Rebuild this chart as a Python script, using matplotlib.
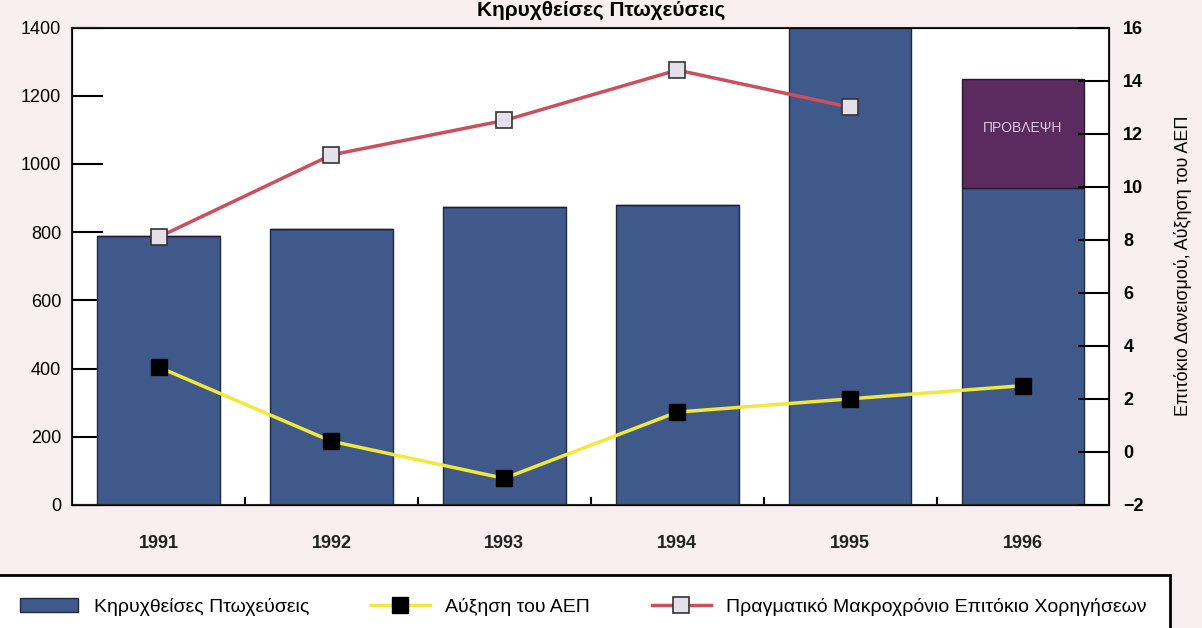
import matplotlib.pyplot as plt
import numpy as np

plt.rcParams['font.family'] = ['Liberation Sans', 'DejaVu Sans']

# data
years = ['1991', '1992', '1993', '1994', '1995', '1996']
bankruptcies = [789, 810, 875, 880, 1450, 930]
forecast_extra = [0, 0, 0, 0, 0, 320]      # forecast part stacked on 1996
gdp_growth = [3.2, 0.4, -1.0, 1.5, 2.0, 2.5]
real_rate = [8.1, 11.2, 12.5, 14.4, 13.0]

bar_col = '#3f5a8a'
purple = '#5b2b60'
bg = '#f9eef0'

fig = plt.figure(figsize=(12.02, 6.28), dpi=100, facecolor=bg)
ax = fig.add_axes([0.06, 0.196, 0.863, 0.76])
ax.set_facecolor('white')

x = np.arange(len(years))
ax.bar(x, bankruptcies, width=0.71, color=bar_col, edgecolor='#1e2a40', linewidth=1,
       label='Κηρυχθείσες Πτωχεύσεις', zorder=2)
ax.bar(x, forecast_extra, bottom=bankruptcies, width=0.71, color=purple,
       edgecolor='#2a1630', linewidth=1, zorder=2)
ax.text(x[5], bankruptcies[5] + 0.55 * forecast_extra[5], 'ΠΡΟΒΛΕΨΗ',
        ha='center', va='center', color='#d8c8e0', fontsize=10, zorder=3)

ax.set_xlim(-0.5, 5.5)
ax.set_ylim(0, 1400)
ax.set_yticks(range(0, 1401, 200))
ax.set_xticks(x)
ax.set_xticklabels(years, fontsize=13, fontweight='bold', color='#222222')
ax.set_xticks(np.arange(0.5, 5, 1), minor=True)
ax.tick_params(axis='x', which='major', length=0, pad=22)
ax.tick_params(axis='x', which='minor', direction='in', length=6, width=1.5)
ax.tick_params(axis='y', direction='in', length=22, width=1.5, labelsize=13, pad=8)
for s in ax.spines.values():
    s.set_linewidth(1.5)
    s.set_color('#222222')

ax2 = ax.twinx()
ax2.set_ylim(-2, 16)
ax2.set_yticks(range(-2, 17, 2))
ax2.tick_params(axis='y', direction='in', length=22, width=1.5, labelsize=13, pad=10)
for t in ax2.get_yticklabels():
    t.set_fontweight('bold')
l1, = ax2.plot(x, gdp_growth, color='#f2e83c', lw=2.5, marker='s', ms=11,
               mfc='black', mec='black', label='Αύξηση του ΑΕΠ', zorder=4)
l2, = ax2.plot(x[:5], real_rate, color='#cc4f5c', lw=2.5, marker='s', ms=11,
               mfc='#e4e0ea', mec='#333333', mew=1.2,
               label='Πραγματικό Μακροχρόνιο Επιτόκιο Χορηγήσεων', zorder=4)
ax2.set_ylabel('Επιτόκιο Δανεισμού, Αύξηση του ΑΕΠ', fontsize=13, labelpad=22)

fig.text(0.5, 0.999, 'Κηρυχθείσες Πτωχεύσεις', ha='center', va='top',
         fontsize=15, fontweight='bold')

handles = [ax.containers[0], l1, l2]
leg = fig.legend(handles, [h.get_label() for h in handles], loc='upper left',
                 bbox_to_anchor=(-0.003, 0.085), borderaxespad=0,
                 ncol=3, fontsize=14, frameon=True, fancybox=False,
                 edgecolor='black', handlelength=3, columnspacing=3.2,
                 borderpad=1.2, framealpha=1)
leg.get_frame().set_linewidth(2)

fig.savefig('out.png', dpi=100, facecolor=bg)
